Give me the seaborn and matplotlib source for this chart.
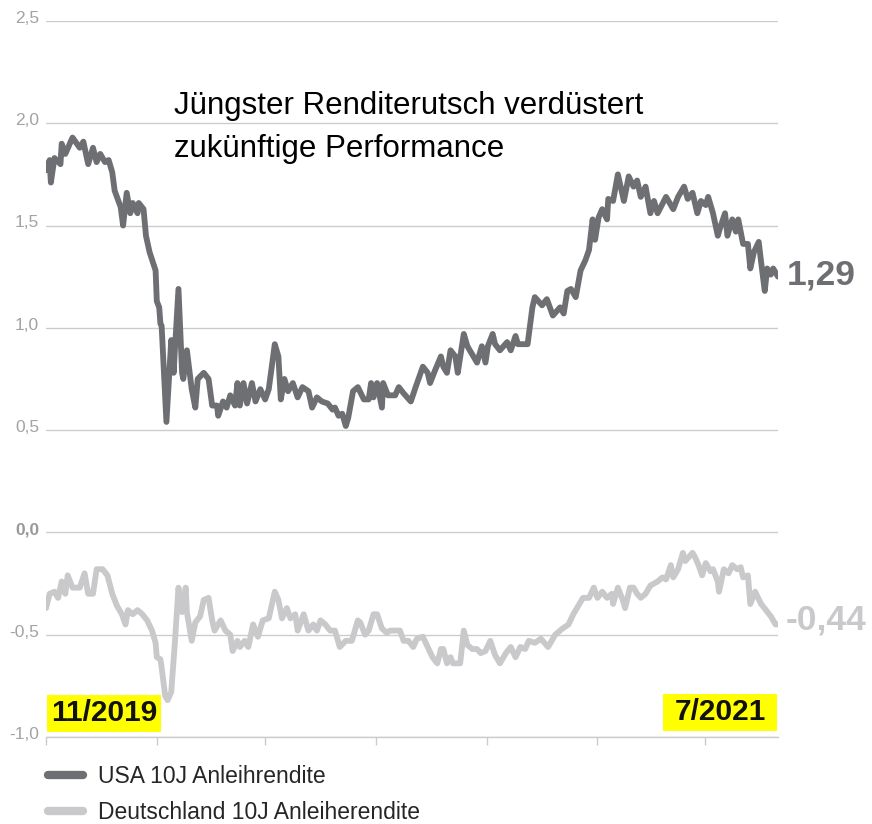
import pandas as pd
import matplotlib.pyplot as plt
from matplotlib.patches import Rectangle
from matplotlib.transforms import ScaledTranslation
import seaborn as sns

# Daten (Tage seit 1.11.2019, Rendite in %)
start = pd.Timestamp('2019-11-01')

us_days = [0, 3, 4, 7, 12, 13, 16, 22, 28, 31, 35, 39, 42, 45, 49, 52, 55, 57, 62, 64,
           67, 70, 72, 76, 77, 81, 83, 86, 91, 92, 94, 95, 96, 100, 104, 106, 107, 110, 113, 114,
           117, 121, 124, 126, 131, 135, 138, 142, 143, 147, 150, 153, 157, 159, 161, 164, 167, 171, 174, 178,
           182, 185, 190, 193, 195, 198, 201, 205, 209, 213, 218, 221, 225, 229, 234, 238, 240, 243, 246, 249,
           251, 255, 259, 264, 268, 270, 272, 275, 279, 280, 284, 290, 293, 297, 303, 307, 313, 317, 319, 323,
           328, 330, 333, 336, 340, 342, 347, 350, 354, 358, 362, 365, 367, 371, 373, 377, 383, 386, 390, 392,
           400, 404, 406, 412, 416, 421, 427, 430, 433, 436, 440, 444, 448, 451, 454, 456, 459, 462, 466, 467,
           471, 475, 480, 484, 488, 491, 494, 498, 502, 505, 508, 515, 521, 525, 530, 533, 537, 541, 544, 548,
           550, 554, 558, 560, 564, 566, 570, 573, 575, 579, 583, 585, 588, 592, 594, 597, 599, 602, 604, 608]
us_yield = [1.77, 1.82, 1.71, 1.83, 1.80, 1.90, 1.85, 1.93, 1.88, 1.91, 1.80, 1.88, 1.81, 1.85, 1.81, 1.82, 1.76, 1.67, 1.59, 1.50,
            1.66, 1.56, 1.61, 1.56, 1.61, 1.58, 1.45, 1.37, 1.28, 1.13, 1.10, 1.02, 1.01, 0.54, 0.94, 0.78, 0.89, 1.19, 0.78, 0.75,
            0.89, 0.70, 0.61, 0.75, 0.78, 0.75, 0.62, 0.62, 0.57, 0.64, 0.61, 0.67, 0.62, 0.73, 0.62, 0.73, 0.63, 0.73, 0.64, 0.70,
            0.65, 0.70, 0.92, 0.86, 0.65, 0.75, 0.69, 0.73, 0.66, 0.71, 0.69, 0.61, 0.66, 0.64, 0.63, 0.60, 0.61, 0.57, 0.58, 0.52,
            0.56, 0.69, 0.71, 0.65, 0.65, 0.73, 0.66, 0.73, 0.61, 0.73, 0.67, 0.67, 0.71, 0.68, 0.64, 0.71, 0.81, 0.78, 0.73, 0.79,
            0.86, 0.81, 0.78, 0.89, 0.86, 0.78, 0.97, 0.91, 0.87, 0.83, 0.91, 0.83, 0.91, 0.97, 0.92, 0.89, 0.93, 0.89, 0.96, 0.92,
            0.92, 1.10, 1.15, 1.11, 1.14, 1.06, 1.10, 1.07, 1.18, 1.19, 1.15, 1.28, 1.33, 1.38, 1.53, 1.43, 1.54, 1.58, 1.53, 1.63,
            1.62, 1.75, 1.62, 1.74, 1.69, 1.72, 1.64, 1.69, 1.56, 1.62, 1.56, 1.64, 1.58, 1.64, 1.69, 1.63, 1.66, 1.56, 1.62, 1.60,
            1.64, 1.56, 1.45, 1.49, 1.56, 1.45, 1.53, 1.47, 1.53, 1.41, 1.41, 1.29, 1.37, 1.42, 1.32, 1.18, 1.29, 1.26, 1.29, 1.25]

de_days = [0, 3, 7, 10, 13, 16, 18, 22, 28, 32, 35, 39, 42, 47, 51, 55, 59, 63, 66, 68,
           72, 76, 80, 84, 88, 91, 92, 95, 96, 99, 101, 104, 106, 107, 110, 113, 116, 117, 121, 124,
           128, 131, 135, 138, 140, 145, 149, 153, 155, 159, 161, 165, 168, 172, 176, 180, 185, 190, 193, 196,
           200, 203, 207, 209, 214, 218, 222, 225, 228, 232, 236, 240, 244, 249, 254, 259, 261, 265, 268, 272,
           275, 279, 283, 286, 290, 294, 297, 301, 305, 308, 313, 317, 321, 325, 328, 330, 333, 336, 338, 344,
           347, 350, 354, 358, 361, 365, 369, 373, 377, 382, 386, 390, 394, 398, 401, 406, 411, 417, 423, 429,
           434, 438, 442, 446, 451, 455, 458, 462, 466, 470, 471, 475, 479, 481, 485, 488, 491, 494, 498, 502,
           508, 512, 515, 519, 521, 525, 529, 531, 537, 539, 542, 545, 548, 552, 554, 558, 559, 563, 567, 570,
           574, 577, 579, 583, 585, 589, 594, 598, 602, 606, 608]
de_yield = [-0.37, -0.30, -0.29, -0.32, -0.24, -0.30, -0.21, -0.27, -0.27, -0.20, -0.30, -0.30, -0.18, -0.18, -0.21, -0.30, -0.36, -0.40, -0.45, -0.38,
            -0.40, -0.38, -0.40, -0.43, -0.48, -0.54, -0.61, -0.62, -0.66, -0.80, -0.82, -0.78, -0.62, -0.54, -0.27, -0.39, -0.27, -0.39, -0.53, -0.44,
            -0.41, -0.33, -0.32, -0.43, -0.48, -0.43, -0.48, -0.50, -0.58, -0.53, -0.56, -0.53, -0.56, -0.45, -0.51, -0.43, -0.42, -0.29, -0.33, -0.42,
            -0.37, -0.42, -0.40, -0.48, -0.40, -0.48, -0.45, -0.48, -0.43, -0.45, -0.48, -0.48, -0.56, -0.53, -0.53, -0.43, -0.44, -0.50, -0.48, -0.40,
            -0.40, -0.47, -0.49, -0.48, -0.48, -0.48, -0.53, -0.53, -0.56, -0.52, -0.51, -0.56, -0.61, -0.64, -0.57, -0.57, -0.64, -0.61, -0.64, -0.64,
            -0.48, -0.55, -0.57, -0.57, -0.59, -0.58, -0.53, -0.60, -0.64, -0.59, -0.56, -0.61, -0.56, -0.57, -0.53, -0.54, -0.52, -0.56, -0.50, -0.47,
            -0.45, -0.40, -0.36, -0.32, -0.32, -0.27, -0.32, -0.29, -0.32, -0.30, -0.35, -0.27, -0.33, -0.37, -0.27, -0.27, -0.30, -0.32, -0.30, -0.26,
            -0.24, -0.22, -0.23, -0.16, -0.22, -0.18, -0.10, -0.14, -0.10, -0.12, -0.16, -0.21, -0.15, -0.19, -0.18, -0.24, -0.29, -0.18, -0.20, -0.16,
            -0.18, -0.17, -0.22, -0.21, -0.35, -0.29, -0.35, -0.38, -0.41, -0.45, -0.45]

us_label = 'USA 10J Anleihrendite'
de_label = 'Deutschland 10J Anleiherendite'
us_last = '1,29'
de_last = '-0,44'
y_ticks = [-1.0, -0.5, 0.0, 0.5, 1.0, 1.5, 2.0, 2.5]
y_tick_labels = ['-1,0', '-0,5', '0,0', '0,5', '1,0', '1,5', '2,0', '2,5']
x_ticks = ['2019-11-01', '2020-02-01', '2020-05-01', '2020-08-01',
           '2020-11-01', '2021-02-01', '2021-05-01']
titel = 'Jüngster Renditerutsch verdüstert\nzukünftige Performance'
datum_start = '11/2019'
datum_ende = '7/2021'

us_color = '#6d6f73'
de_color = '#c9c9cb'

df_us = pd.DataFrame({'datum': start + pd.to_timedelta(us_days, unit='D'),
                      'rendite': us_yield, 'serie': us_label})
df_de = pd.DataFrame({'datum': start + pd.to_timedelta(de_days, unit='D'),
                      'rendite': de_yield, 'serie': de_label})
df = pd.concat([df_us, df_de], ignore_index=True)

sns.set_theme(style='white')
plt.rcParams['font.family'] = ['Liberation Sans', 'DejaVu Sans']

fig = plt.figure(figsize=(8.72, 8.24), dpi=100)
ax = fig.add_axes([0.0528, 0.1056, 0.8394, 0.869])

sns.lineplot(data=df, x='datum', y='rendite', hue='serie',
             palette={us_label: us_color, de_label: de_color},
             estimator=None, sort=False, lw=4.2, ax=ax,
             solid_joinstyle='round', solid_capstyle='round')

ax.set_xlim(df['datum'].min(), df['datum'].max())
ax.set_ylim(-1.0, 2.5)
ax.set_xlabel('')
ax.set_ylabel('')

# Achsen
for s in ['top', 'right', 'left']:
    ax.spines[s].set_visible(False)
ax.spines['bottom'].set_color('#cccccc')
ax.spines['bottom'].set_linewidth(1)
ax.grid(axis='y', color='#cccccc', lw=1)
ax.grid(axis='x', visible=False)
ax.set_axisbelow(True)

ax.set_xticks(pd.to_datetime(x_ticks))
ax.set_xticklabels([])
ax.tick_params(axis='x', bottom=True, length=6, width=1, color='#cccccc', direction='out')

ax.set_yticks(y_ticks)
ax.set_yticklabels(y_tick_labels)
ax.tick_params(axis='y', left=False, length=0, pad=5, labelsize=12.5, labelcolor='#a3a3a3')
offset = ScaledTranslation(0, 3 / 72, fig.dpi_scale_trans)
for lbl in ax.get_yticklabels():
    lbl.set_transform(lbl.get_transform() + offset)
    if lbl.get_text() == '0,0':
        lbl.set_fontweight('bold')
        lbl.set_color('#999999')

# Titel im Diagramm
ax.text(0.175, 0.902, titel, transform=ax.transAxes, ha='left', va='top',
        fontsize=22.5, color='black', linespacing=1.55)

# Endwerte
ax.text(1.012, 1.26, us_last, transform=ax.get_yaxis_transform(), ha='left', va='center',
        fontsize=25.5, fontweight='bold', color=us_color)
ax.text(1.010, -0.43, de_last, transform=ax.get_yaxis_transform(), ha='left', va='center',
        fontsize=25.5, fontweight='bold', color=de_color)

# gelbe Datumskästen
for x0, y0, txt in [(0.0014, 0.007, datum_start), (0.843, 0.0084, datum_ende)]:
    ax.add_patch(Rectangle((x0, y0), 0.1557, 0.0517, transform=ax.transAxes,
                           facecolor='#ffff00', edgecolor='none', zorder=5))
    ax.text(x0 + 0.0779, y0 + 0.0258, txt, transform=ax.transAxes, ha='center', va='center',
            fontsize=21.5, fontweight='bold', color='#111111', zorder=6)

# Legende unter dem Diagramm
handles, labels = ax.get_legend_handles_labels()
if ax.get_legend() is not None:
    ax.get_legend().remove()
leg = fig.legend(handles, labels, loc='upper left', bbox_to_anchor=(0.0545, 0.0715),
                 frameon=False, fontsize=16.5, handlelength=1.55, handletextpad=0.67,
                 labelspacing=0.58, borderpad=0, borderaxespad=0)
for h in leg.get_lines():
    h.set_linewidth(6)
    h.set_solid_capstyle('round')

fig.savefig('out.png', dpi=100)
